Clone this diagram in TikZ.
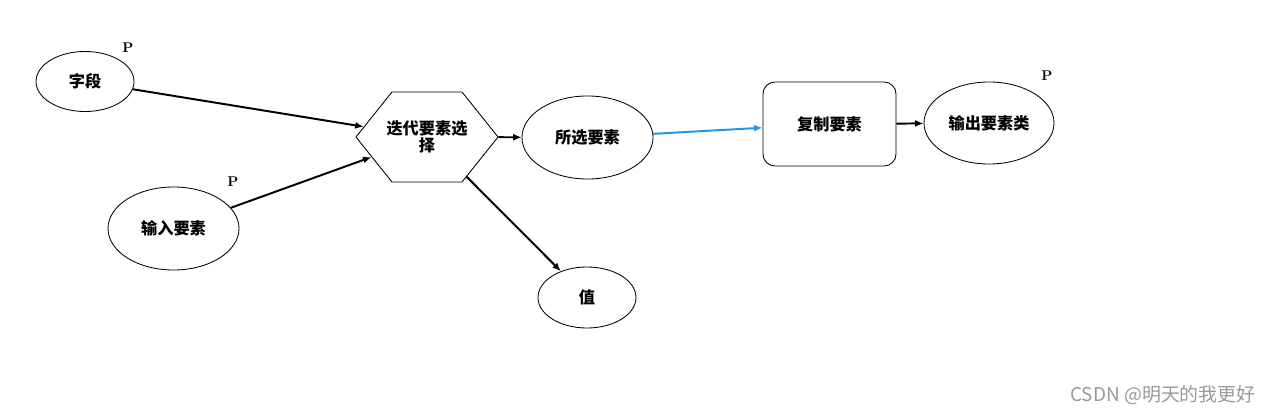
\documentclass[tikz,border=0pt]{standalone}
\usepackage{xcolor}
\usepackage{fontspec}
\usepackage{tikz}
\usetikzlibrary{arrows.meta,shapes.geometric,shapes.symbols}
\newfontfamily\cjk{Noto Sans CJK SC}
\definecolor{linkblue}{RGB}{30,150,240}

\tikzset{
  data/.style={draw, ellipse, inner sep=0pt, line width=0.6pt, font=\cjk\bfseries\fontsize{11.5}{13}\selectfont},
  tool/.style={draw, rectangle, rounded corners=0.3cm, line width=0.6pt, font=\cjk\bfseries\fontsize{11.5}{13}\selectfont},
  iter/.style={draw, signal, signal to=east and west, signal pointer angle=102.7, inner ysep=0pt, inner xsep=-4pt, line width=0.6pt, align=center, font=\cjk\bfseries\fontsize{11.5}{12.5}\selectfont},
  link/.style={-{Latex[length=6pt,width=5pt]}, line width=1.4pt},
  parm/.style={font=\bfseries\fontsize{10}{12}\selectfont}
}

\begin{document}
\begin{tikzpicture}[x=0.025cm, y=-0.025cm]
\useasboundingbox (0,0) rectangle (1275,413);

%Inputs
\node[data, minimum width=2.45cm, minimum height=1.5cm] (field) at (85,81.5) {字段};
\node[parm] (pfield) at (128,48) {P};
\node[data, minimum width=3.275cm, minimum height=2.075cm] (infeat) at (173.5,228.5) {输入要素};
\node[parm] (pinfeat) at (233,182) {P};

%Iterator
\node[iter, minimum width=3.55cm, minimum height=2.25cm] (iterate) at (427,137) {迭代要素选\\择};

%Outputs of the iterator
\node[data, minimum width=3.275cm, minimum height=2.075cm] (selected) at (587.5,137.5) {所选要素};
\node[data, minimum width=2.45cm, minimum height=1.525cm] (value) at (587,297.5) {值};

%Copy tool and result
\node[tool, minimum width=3.325cm, minimum height=2.1cm] (copy) at (829.5,124) {复制要素};
\node[data, minimum width=3.25cm, minimum height=2.05cm] (outfeat) at (989,123) {输出要素类};
\node[parm] (poutfeat) at (1047,76) {P};

%Connectors
\draw[link] (field) -- (iterate);
\draw[link] (infeat) -- (iterate);
\draw[link] (iterate) -- (selected);
\draw[link] (iterate) -- (value);
\draw[link, linkblue] (selected) -- (copy);
\draw[link] (copy) -- (outfeat);

%Watermark
\node[font=\cjk\fontsize{13.5}{15}\selectfont, text=black!40] (mark) at (1163,395) {CSDN @明天的我更好};
\end{tikzpicture}
\end{document}
